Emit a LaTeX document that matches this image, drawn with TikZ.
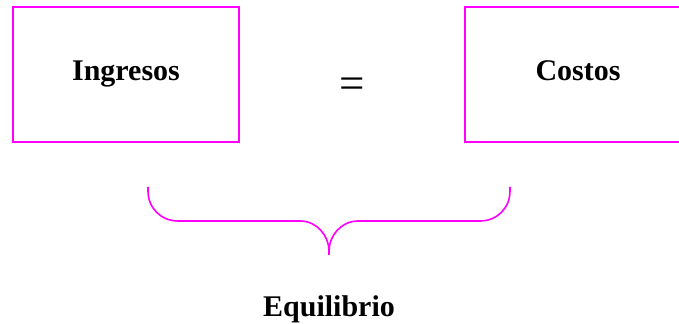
\documentclass[tikz,border=0pt]{standalone}
\usepackage{fontspec}
\setmainfont{Liberation Serif}
\usetikzlibrary{positioning}
\definecolor{magenta}{RGB}{255,0,255}

\begin{document}
\begin{tikzpicture}[x=0.5pt,y=0.5pt,every node/.style={font=\fontsize{15}{18}\selectfont\bfseries,inner sep=0pt},
  caja/.style={draw=magenta,line width=1pt,minimum width=113pt,minimum height=67.5pt,text height=10pt,text depth=3.5pt}]
  \useasboundingbox (0,0) rectangle (679,-324);
  \node[caja] (ing) at (126,-74.5) {Ingresos};
  \node[caja] (cos) at (578,-74.5) {Costos};
  \node[font=\fontsize{22.5}{26}\selectfont] (igual) at (352.5,-88) {=};
  \coordinate (pico) at (329,-255);
  \node[below=20pt of pico] (equ) {Equilibrio};
  % llave
  \draw[magenta,line width=0.8pt] (148,-187) -- (148,-191) .. controls (148,-208) and (161,-221) .. (178,-221)
    -- (300,-221) .. controls (317,-221) and (329,-236) .. (329,-251) -- (pico);
  \draw[magenta,line width=0.8pt] (510,-187) -- (510,-191) .. controls (510,-208) and (497,-221) .. (480,-221)
    -- (358,-221) .. controls (341,-221) and (329,-236) .. (329,-251) -- (pico);
\end{tikzpicture}
\end{document}
